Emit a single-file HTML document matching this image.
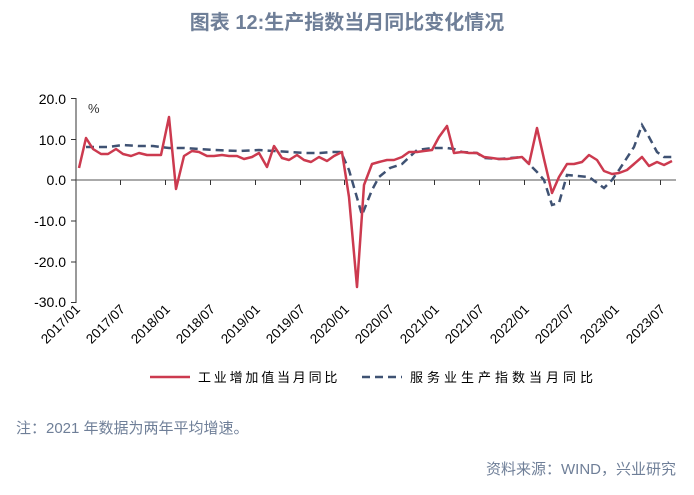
<!DOCTYPE html><html><head><meta charset="utf-8"><style>body{margin:0;background:#fff;width:694px;height:490px;overflow:hidden;font-family:"Liberation Sans","Noto Sans CJK SC",sans-serif}</style></head><body>
<svg width="694" height="490" xmlns="http://www.w3.org/2000/svg" font-family="Liberation Sans, Noto Sans CJK SC, sans-serif">
<text x="347" y="29" text-anchor="middle" font-size="20" font-weight="bold" fill="#6f7f98">图表 12:生产指数当月同比变化情况</text>
<g font-size="14" fill="#000" text-anchor="end">
<text x="66" y="104">20.0</text><text x="66" y="145">10.0</text><text x="66" y="185">0.0</text><text x="66" y="226">-10.0</text><text x="66" y="267">-20.0</text><text x="66" y="307">-30.0</text></g>
<text x="88" y="113" font-size="13" fill="#333">%</text>
<g stroke="#333" stroke-width="1">
<line x1="76" y1="98" x2="76" y2="303"/>
<line x1="71" y1="98.5" x2="76" y2="98.5"/><line x1="71" y1="139.5" x2="76" y2="139.5"/><line x1="71" y1="180" x2="76" y2="180"/><line x1="71" y1="221" x2="76" y2="221"/><line x1="71" y1="262" x2="76" y2="262"/><line x1="71" y1="302.5" x2="76" y2="302.5"/>
<line x1="76" y1="180" x2="676" y2="180" stroke="#555"/>
</g>
<g stroke="#333" stroke-width="1">
<line x1="120.5" y1="180" x2="120.5" y2="185"/><line x1="165.5" y1="180" x2="165.5" y2="185"/><line x1="210.5" y1="180" x2="210.5" y2="185"/><line x1="255.5" y1="180" x2="255.5" y2="185"/><line x1="300.5" y1="180" x2="300.5" y2="185"/><line x1="344.5" y1="180" x2="344.5" y2="185"/><line x1="389.5" y1="180" x2="389.5" y2="185"/><line x1="434.5" y1="180" x2="434.5" y2="185"/><line x1="479.5" y1="180" x2="479.5" y2="185"/><line x1="524.5" y1="180" x2="524.5" y2="185"/><line x1="569.5" y1="180" x2="569.5" y2="185"/><line x1="614.5" y1="180" x2="614.5" y2="185"/><line x1="660.5" y1="180" x2="660.5" y2="185"/>
</g>
<g font-size="13.5" fill="#000" text-anchor="end">
<text transform="translate(81,310) rotate(-45)">2017/01</text>
<text transform="translate(126,310) rotate(-45)">2017/07</text>
<text transform="translate(171,310) rotate(-45)">2018/01</text>
<text transform="translate(216,310) rotate(-45)">2018/07</text>
<text transform="translate(261,310) rotate(-45)">2019/01</text>
<text transform="translate(306,310) rotate(-45)">2019/07</text>
<text transform="translate(350,310) rotate(-45)">2020/01</text>
<text transform="translate(395,310) rotate(-45)">2020/07</text>
<text transform="translate(440,310) rotate(-45)">2021/01</text>
<text transform="translate(485,310) rotate(-45)">2021/07</text>
<text transform="translate(530,310) rotate(-45)">2022/01</text>
<text transform="translate(575,310) rotate(-45)">2022/07</text>
<text transform="translate(620,310) rotate(-45)">2023/01</text>
<text transform="translate(666,310) rotate(-45)">2023/07</text>
</g>
<polyline fill="none" stroke="#3f5273" stroke-width="2.5" stroke-dasharray="8,5" points="86,147 108,147 123,145 138,146 153,146 169,148 184,148 199,149 215,150 239,151 259,150 274,151 290,152 305,153 320,153 332,152 341,152 349,170 362,215 372,190 379,177 390,168 402,164 417,150 432,148 447,148 454,149 462,152 477,153 484,158 499,159 522,157 537,172 544,180 552,205 559,203 567,175 589,177 604,188 612,180 619,170 634,147 642,125 649,137 657,152 664,157 672,157"/>
<polyline fill="none" stroke="#cc3a4f" stroke-width="2.5" stroke-linejoin="round" points="79,168 86,138 93,149 101,154 108,154 116,149 123,154 131,156 139,153 147,155 154,155 161,155 169,117 176,189 184,156 192,151 199,152 207,156 214,156 222,155 229,156 237,156 244,159 252,157 259,153 267,167 274,146 282,158 289,160 297,155 304,160 311,162 319,157 327,161 334,156 342,152 349,197 357,287 364,185 372,164 379,162 387,160 394,160 402,157 409,152 417,152 424,151 432,150 439,137 447,126 454,153 462,152 469,153 477,153 484,157 492,158 499,159 507,159 514,158 522,157 529,164 537,128 544,159 552,193 559,177 567,164 574,164 582,162 589,155 597,160 604,171 612,174 619,173 627,170 634,164 642,157 649,166 657,162 664,165 672,161"/>
<line x1="150" y1="377" x2="190" y2="377" stroke="#cc3a4f" stroke-width="2.5"/>
<text x="198" y="382" font-size="13" letter-spacing="2.8">工业增加值当月同比</text>
<line x1="362" y1="377" x2="402" y2="377" stroke="#3f5273" stroke-width="2.5" stroke-dasharray="8,5"/>
<text x="410" y="382" font-size="13" letter-spacing="4">服务业生产指数当月同比</text>
<text x="16" y="433" font-size="15" fill="#6f7f98">注：2021 年数据为两年平均增速。</text>
<text x="676" y="474" text-anchor="end" font-size="15" fill="#6f7f98">资料来源：WIND，兴业研究</text>
</svg></body></html>
